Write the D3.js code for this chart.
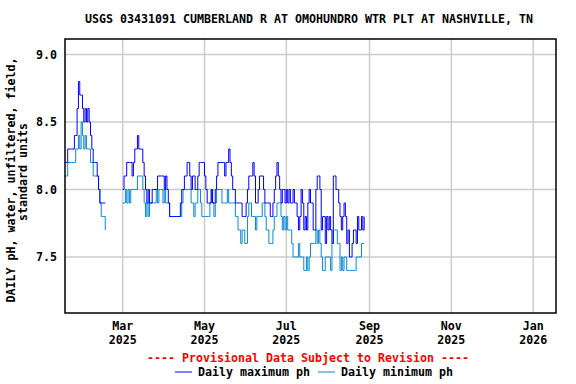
<!doctype html>
<html>
<head>
<meta charset="UTF-8" />
<script src="https://d3js.org/d3.v7.min.js"></script>
<style>
  body { margin: 0; background: #fff; }
  text { font-family: "DejaVu Sans Mono", monospace; font-weight: bold; font-size: 11.63px; }
</style>
</head>
<body>
<svg id="chart" width="576" height="384"></svg>
<script>
(function(){
  "use strict";

  // data (daily values, pH)
  const seg1Start = "2025-01-17";
  const seg1Max = [8.2,8.2,8.3,8.3,8.3,8.3,8.3,8.4,8.4,8.6,8.8,8.7,8.7,8.6,8.5,8.6,8.5,8.6,8.5,8.4,
                   8.3,8.2,8.2,8.2,8.1,8.0,7.9,7.9,7.9,7.9,7.9];
  const seg1Min = [8.1,8.1,8.2,8.2,8.2,8.2,8.2,8.2,8.3,8.3,8.4,8.3,8.5,8.4,8.3,8.4,8.3,8.3,8.3,8.2,
                   8.2,8.1,8.1,8.1,8.1,8.0,7.9,7.8,7.8,7.8,7.7];

  const seg2Start = "2025-03-01";
  const seg2Max = [8.0,8.1,8.1,8.2,8.2,8.2,8.2,8.1,8.2,8.3,8.3,8.4,8.3,8.3,8.3,8.2,8.1,8.0,7.9,8.0,
                   7.9,7.9,8.0,8.0,8.0,8.0,8.1,8.1,8.1,8.1,8.1,8.0,8.1,8.0,7.9,7.8,7.8,7.8,7.8,7.8,
                   7.8,7.8,7.8,7.9,8.0,8.0,8.1,8.1,8.2,8.2,8.1,8.0,8.1,8.1,8.0,8.0,8.1,8.2,8.2,8.2,
                   8.2,8.1,8.0,7.9,7.9,7.9,8.0,7.9,7.9,8.0,8.1,8.2,8.2,8.2,8.2,8.2,8.1,8.2,8.2,8.3,
                   8.2,8.1,8.0,8.0,7.9,7.9,7.9,7.9,7.9,7.8,7.8,7.8,7.9,8.0,8.1,8.1,8.1,8.2,8.1,7.9,
                   7.9,8.0,8.1,8.1,8.1,8.0,7.9,7.9,7.9,7.9,7.8,7.8,7.9,8.0,8.1,8.2,8.1,8.0,7.9,8.0,
                   8.0,7.9,8.0,7.9,8.0,7.9,7.9,8.0,7.9,7.9,7.8,7.7,7.8,8.0,7.9,7.7,7.8,7.7,7.9,8.0,
                   7.9,7.9,7.7,7.7,8.0,8.1,8.1,8.0,7.7,7.8,7.8,7.6,7.8,7.7,7.8,7.7,7.6,8.1,8.1,8.0,
                   8.0,7.9,7.8,7.7,7.8,7.9,7.8,7.6,7.7,7.5,7.5,7.6,7.7,7.7,7.6,7.8,7.7,7.7,7.8,7.7,
                   7.8];
  const seg2Min = [7.9,7.9,8.0,7.9,8.0,7.9,8.0,8.0,8.0,8.0,8.0,8.1,8.1,8.1,8.1,8.0,7.9,7.8,7.9,7.8,
                   7.9,7.9,7.9,7.9,7.9,8.0,7.9,8.0,8.0,8.0,7.9,8.0,7.9,7.9,7.9,7.8,7.8,7.8,7.8,7.8,
                   7.8,7.8,7.8,7.8,7.9,8.0,8.0,8.0,8.0,8.0,8.0,7.9,7.9,7.8,7.9,7.9,8.0,8.0,7.9,7.8,
                   7.8,7.8,7.8,7.8,7.8,7.9,8.0,7.9,7.8,7.9,8.0,8.0,8.0,8.0,7.9,7.9,7.9,7.9,8.0,7.9,
                   7.9,7.9,7.9,7.9,7.8,7.8,7.7,7.7,7.6,7.7,7.7,7.6,7.6,7.8,7.9,7.9,7.8,7.8,7.8,7.7,
                   7.8,7.8,7.8,7.8,7.9,7.9,7.8,7.7,7.7,7.6,7.6,7.6,7.7,7.8,7.8,7.9,7.9,7.9,7.8,7.7,
                   7.8,7.7,7.8,7.7,7.7,7.7,7.6,7.5,7.5,7.5,7.5,7.6,7.5,7.5,7.5,7.4,7.4,7.5,7.4,7.5,
                   7.6,7.6,7.6,7.6,7.7,7.6,7.7,7.6,7.5,7.4,7.4,7.5,7.5,7.5,7.5,7.4,7.6,7.7,7.7,7.7,
                   7.6,7.6,7.4,7.5,7.4,7.5,7.5,7.4,7.4,7.4,7.4,7.4,7.4,7.4,7.5,7.5,7.5,7.5,7.6,7.6,
                   7.6];

  const yTicks = [7.5, 8.0, 8.5, 9.0];
  const xDomain = ["2025-01-17", "2026-01-18"];
  const title = "USGS 03431091 CUMBERLAND R AT OMOHUNDRO WTR PLT AT NASHVILLE, TN";
  const yTitle = ["DAILY pH, water, unfiltered, field,", "standard units"];
  const note = "---- Provisional Data Subject to Revision ----";
  const legendNames = ["Daily maximum ph", "Daily minimum ph"];
  const colMax = "#0000ff", colMin = "#0a8ad0";

  const svg = d3.select("#chart");
  const left = 65, right = 556, top = 39, bottom = 313;
  const parse = d3.utcParse("%Y-%m-%d");

  const x = d3.scaleUtc().domain(xDomain.map(parse)).range([left, right]);
  const y = d3.scaleLinear().domain([7.085, 9.115]).range([bottom, top]);

  function toPoints(start, vals){
    let s = parse(start);
    return vals.map(function(v, i){ return {date: d3.utcDay.offset(s, i), v: v}; });
  }

  const xTicks = x.ticks(d3.utcMonth.every(2));

  // grid
  svg.append("g").selectAll("line.h").data(yTicks).enter().append("line")
     .attr("x1", left).attr("x2", right)
     .attr("y1", function(d){ return y(d); }).attr("y2", function(d){ return y(d); })
     .attr("stroke", "#cccccc").attr("stroke-width", 1.5);
  svg.append("g").selectAll("line.v").data(xTicks).enter().append("line")
     .attr("x1", function(d){ return x(d); }).attr("x2", function(d){ return x(d); })
     .attr("y1", top).attr("y2", bottom)
     .attr("stroke", "#cccccc").attr("stroke-width", 1.5);

  const line = d3.line()
     .x(function(d){ return x(d.date); })
     .y(function(d){ return y(d.v); })
     .curve(d3.curveStepAfter);

  const series = [
    {vals: [toPoints(seg1Start, seg1Min), toPoints(seg2Start, seg2Min)], color: colMin},
    {vals: [toPoints(seg1Start, seg1Max), toPoints(seg2Start, seg2Max)], color: colMax}
  ];
  series.forEach(function(s){
    s.vals.forEach(function(pts){
      svg.append("path").datum(pts)
         .attr("d", line)
         .attr("fill", "none")
         .attr("stroke", s.color)
         .attr("stroke-width", 1);
    });
  });

  // frame
  svg.append("rect").attr("x", left).attr("y", top)
     .attr("width", right - left).attr("height", bottom - top)
     .attr("fill", "none").attr("stroke", "#000").attr("stroke-width", 1.5);

  // y axis
  const yAxis = d3.axisLeft(y).tickValues(yTicks).tickSize(0).tickPadding(8).tickFormat(d3.format(".1f"));
  const ga = svg.append("g").attr("transform", "translate(" + left + ",0)").call(yAxis);
  ga.select(".domain").remove();
  ga.selectAll("text").attr("font-family", null).attr("font-size", null).attr("fill", "#000");

  // x labels
  const fmtM = d3.utcFormat("%b"), fmtY = d3.utcFormat("%Y");
  const gx = svg.append("g");
  gx.selectAll("text.m").data(xTicks).enter().append("text")
    .attr("x", function(d){ return x(d); }).attr("y", 330)
    .attr("text-anchor", "middle").text(fmtM);
  gx.selectAll("text.y").data(xTicks).enter().append("text")
    .attr("x", function(d){ return x(d); }).attr("y", 344)
    .attr("text-anchor", "middle").text(fmtY);

  // titles
  svg.append("text").attr("x", 309).attr("y", 23).attr("text-anchor", "middle").text(title);
  const yTitlePos = [[15, 180], [27, 172]];
  yTitle.forEach(function(t, i){
    svg.append("text")
       .attr("transform", "translate(" + yTitlePos[i][0] + "," + yTitlePos[i][1] + ") rotate(-90)")
       .attr("text-anchor", "middle").text(t);
  });
  svg.append("text").attr("x", 308).attr("y", 362).attr("text-anchor", "middle")
     .attr("fill", "#ff0000").text(note);

  // legend
  const lg = svg.append("g");
  [[175, colMax, legendNames[0]], [318, colMin, legendNames[1]]].forEach(function(e){
    lg.append("line").attr("x1", e[0]).attr("x2", e[0] + 17).attr("y1", 372).attr("y2", 372)
      .attr("stroke", e[1]).attr("stroke-width", 1);
    lg.append("text").attr("x", e[0] + 23).attr("y", 376).text(e[2]);
  });
})();
</script>
</body>
</html>
